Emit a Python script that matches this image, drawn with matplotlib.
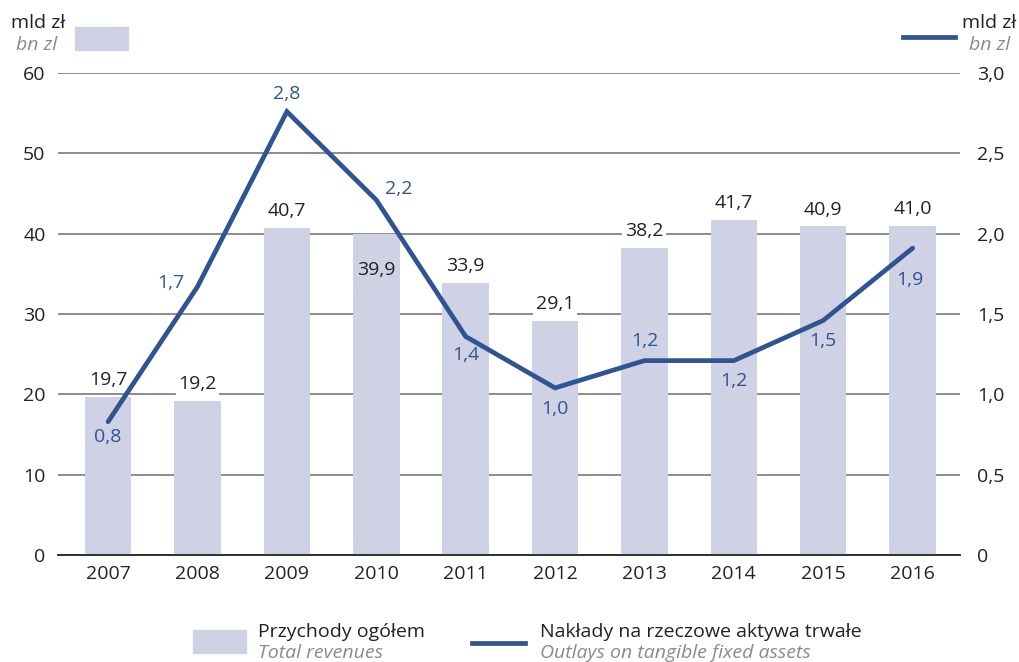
import matplotlib.pyplot as plt
import numpy as np

plt.rcParams['font.family'] = ['Open Sans', 'DejaVu Sans']

years = ['2007', '2008', '2009', '2010', '2011', '2012', '2013', '2014', '2015', '2016']
revenues = [19.7, 19.2, 40.7, 39.9, 33.9, 29.1, 38.2, 41.7, 40.9, 41.0]
outlays = [0.83, 1.67, 2.76, 2.21, 1.36, 1.04, 1.21, 1.21, 1.46, 1.91]

left_ticks = [0, 10, 20, 30, 40, 50, 60]
right_ticks = [0, 0.5, 1.0, 1.5, 2.0, 2.5, 3.0]

bar_color = '#cfd2e5'
line_color = '#2f5393'
gray_text = '#8a8a8a'
fs = 14

# offsets (points) for the line value labels
line_offsets = [(0, -11), (-19, 3), (0, 13), (16, 8), (0, -13),
                (0, -15), (0, 14), (0, -15), (0, -15), (-2, -23)]


def fmt(v, nd=1):
    return f"{v:.{nd}f}".replace('.', ',')


fig = plt.figure(figsize=(10.2, 6.62), dpi=100)
ax = fig.add_axes([0.0569, 0.1616, 0.8843, 0.7281])
ax2 = ax.twinx()

x = np.arange(len(years))
ax.bar(x, revenues, width=0.52, color=bar_color, zorder=2)
ax.set_ylim(0, 60)
ax.set_xlim(-0.56, len(years) - 0.47)
ax.set_yticks(left_ticks)
ax.set_yticklabels([str(t) for t in left_ticks])
ax.yaxis.grid(True, color='#6e6e6e', linewidth=1.1, zorder=1)
ax.set_axisbelow(True)
ax.set_xticks(x)
ax.set_xticklabels(years)
ax.tick_params(axis='both', length=0, labelsize=fs, colors='#222222')
ax.tick_params(axis='y', pad=9)
ax.tick_params(axis='x', pad=7)
for s in ['top', 'left', 'right']:
    ax.spines[s].set_visible(False)
ax.spines['bottom'].set_color('#222222')
ax.spines['bottom'].set_linewidth(1.3)

# bar value labels
for i, v in enumerate(revenues):
    if i == 3:
        ax.text(i, v - 4.4, fmt(v), ha='center', va='center', fontsize=fs,
                color='#222222', zorder=4)
    else:
        ax.text(i, v + 2.1, fmt(v), ha='center', va='center', fontsize=fs,
                color='#222222', zorder=4,
                bbox=dict(facecolor='white', edgecolor='none', pad=2))

ax2.plot(x, outlays, color=line_color, linewidth=3.4, solid_capstyle='round',
         solid_joinstyle='miter', zorder=5)
ax2.set_ylim(0, 3.0)
ax2.set_yticks(right_ticks)
ax2.set_yticklabels([fmt(t) if t > 0 else '0' for t in right_ticks])
ax2.tick_params(axis='y', length=0, labelsize=fs, colors='#222222', pad=12)
for s in ['top', 'left', 'right', 'bottom']:
    ax2.spines[s].set_visible(False)

for i, v in enumerate(outlays):
    dx, dy = line_offsets[i]
    ax2.annotate(fmt(v), (i, v), xytext=(dx, dy), textcoords='offset points',
                 ha='center', va='center', fontsize=fs, color=line_color)

# axis unit captions
fig.text(0.011, 0.965, 'mld zł', fontsize=fs, color='#222222', ha='left', va='center')
fig.text(0.016, 0.932, 'bn zl', fontsize=fs, color=gray_text, style='italic',
         ha='left', va='center')
fig.patches.append(plt.Rectangle((0.0735, 0.925), 0.052, 0.034, color=bar_color,
                                 transform=fig.transFigure, figure=fig))
fig.text(0.996, 0.965, 'mld zł', fontsize=fs, color='#222222', ha='right', va='center')
fig.text(0.99, 0.932, 'bn zl', fontsize=fs, color=gray_text, style='italic',
         ha='right', va='center')
fig.add_artist(plt.Line2D([0.885, 0.936], [0.944, 0.944], color=line_color,
                          linewidth=3.4, transform=fig.transFigure))

# legend
fig.patches.append(plt.Rectangle((0.189, 0.014), 0.052, 0.035, color=bar_color,
                                 transform=fig.transFigure, figure=fig))
fig.text(0.253, 0.046, 'Przychody ogółem', fontsize=fs, color='#222222',
         ha='left', va='center')
fig.text(0.253, 0.013, 'Total revenues', fontsize=fs, color=gray_text,
         style='italic', ha='left', va='center')
fig.add_artist(plt.Line2D([0.463, 0.515], [0.029, 0.029], color=line_color,
                          linewidth=3.4, transform=fig.transFigure))
fig.text(0.529, 0.046, 'Nakłady na rzeczowe aktywa trwałe', fontsize=fs,
         color='#222222', ha='left', va='center')
fig.text(0.529, 0.013, 'Outlays on tangible fixed assets', fontsize=fs,
         color=gray_text, style='italic', ha='left', va='center')

fig.savefig('out.png', dpi=100)
